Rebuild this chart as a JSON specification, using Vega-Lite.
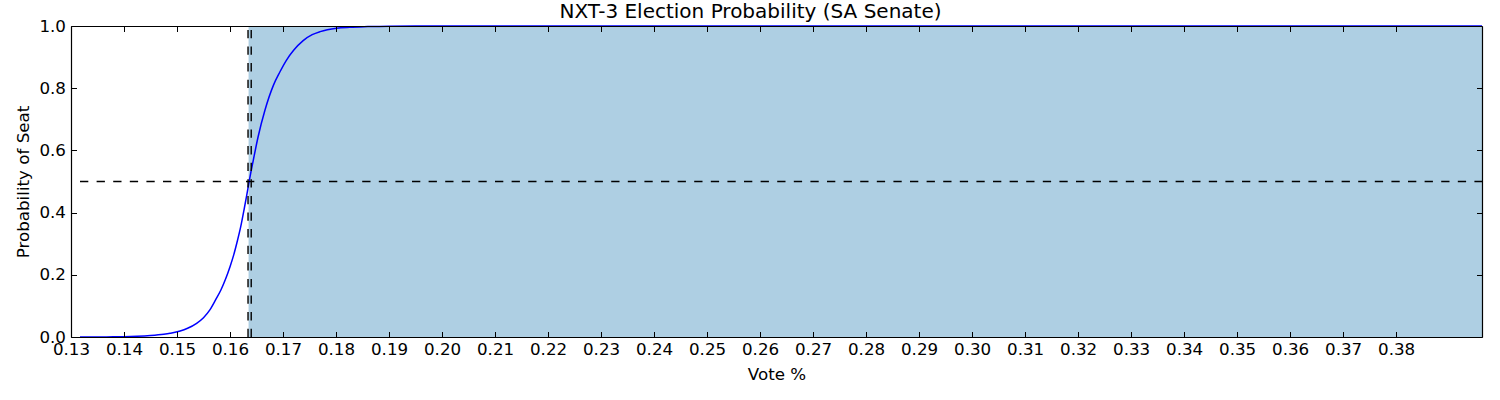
{
  "$schema": "https://vega.github.io/schema/vega-lite/v6.json",
  "width": 1411,
  "height": 311,
  "autosize": "none",
  "padding": {"left": 71, "top": 26, "right": 18, "bottom": 63},
  "background": "white",
  "config": {"view": {"stroke": null}, "font": "DejaVu Sans"},
  "title": {"text": "NXT-3 Election Probability (SA Senate)", "font": "DejaVu Sans", "fontSize": 20, "fontWeight": "normal", "color": "black", "anchor": "middle", "offset": -4, "dx": -26},
  "datasets": {
    "fill": [{"x0": 0.1635, "x1": 0.3962, "y0": 0, "y1": 1}],
    "curve": [
      {"vote": 0.1317, "p": 0.0},
      {"vote": 0.135, "p": 0.0002},
      {"vote": 0.138, "p": 0.0005},
      {"vote": 0.14, "p": 0.001},
      {"vote": 0.1425, "p": 0.0025},
      {"vote": 0.145, "p": 0.005},
      {"vote": 0.1475, "p": 0.009},
      {"vote": 0.1487, "p": 0.012},
      {"vote": 0.1506, "p": 0.019},
      {"vote": 0.152, "p": 0.028},
      {"vote": 0.1537, "p": 0.044},
      {"vote": 0.155, "p": 0.062},
      {"vote": 0.1562, "p": 0.087},
      {"vote": 0.1573, "p": 0.12},
      {"vote": 0.1583, "p": 0.152},
      {"vote": 0.1592, "p": 0.188},
      {"vote": 0.16, "p": 0.226},
      {"vote": 0.1607, "p": 0.264},
      {"vote": 0.1613, "p": 0.303},
      {"vote": 0.162, "p": 0.353},
      {"vote": 0.1627, "p": 0.414},
      {"vote": 0.1632, "p": 0.46},
      {"vote": 0.1636, "p": 0.499},
      {"vote": 0.1644, "p": 0.569},
      {"vote": 0.1653, "p": 0.644},
      {"vote": 0.1666, "p": 0.73},
      {"vote": 0.1682, "p": 0.81},
      {"vote": 0.1694, "p": 0.852},
      {"vote": 0.1706, "p": 0.889},
      {"vote": 0.172, "p": 0.922},
      {"vote": 0.1738, "p": 0.953},
      {"vote": 0.1755, "p": 0.972},
      {"vote": 0.177, "p": 0.982},
      {"vote": 0.1801, "p": 0.993},
      {"vote": 0.1826, "p": 0.996},
      {"vote": 0.186, "p": 0.998},
      {"vote": 0.19, "p": 0.9995},
      {"vote": 0.195, "p": 1.0},
      {"vote": 0.3962, "p": 1.0}
    ],
    "hline": [{"y": 0.5, "xa": 0.1317, "xb": 0.3962}],
    "vlines": [{"x": 0.1634, "ya": 0, "yb": 1}, {"x": 0.164, "ya": 0, "yb": 1}]
  },
  "layer": [
    {
      "data": {"name": "fill"},
      "mark": {"type": "rect", "color": "#aecfe3"},
      "encoding": {
        "x": {"field": "x0", "type": "quantitative", "scale": {"domain": [0.13, 0.3962], "nice": false, "zero": false},
          "axis": {"orient": "bottom", "values": [0.13,0.14,0.15,0.16,0.17,0.18,0.19,0.2,0.21,0.22,0.23,0.24,0.25,0.26,0.27,0.28,0.29,0.3,0.31,0.32,0.33,0.34,0.35,0.36,0.37,0.38],
            "format": ".2f", "tickSize": -5.5, "tickColor": "black", "tickWidth": 1, "domainColor": "black", "domainWidth": 1.2,
            "labelPadding": 10, "labelFontSize": 16.7, "labelColor": "black", "labelFont": "DejaVu Sans", "labelFlush": false, "labelOverlap": false,
            "grid": false, "zindex": 2, "title": "Vote %", "titleFontSize": 16.7, "titleFontWeight": "normal", "titleColor": "black", "titleFont": "DejaVu Sans", "titlePadding": 8}},
        "x2": {"field": "x1"},
        "y": {"field": "y0", "type": "quantitative", "scale": {"domain": [0, 1], "nice": false},
          "axis": {"orient": "left", "values": [0, 0.2, 0.4, 0.6, 0.8, 1.0], "format": ".1f", "tickSize": -5.5, "tickColor": "black", "tickWidth": 1, "domainColor": "black", "domainWidth": 1.2,
            "labelPadding": 11, "labelFontSize": 16.7, "labelColor": "black", "labelFont": "DejaVu Sans", "labelFlush": false, "labelOverlap": false,
            "grid": false, "zindex": 2, "title": "Probability of Seat", "titleFontSize": 16.7, "titleFontWeight": "normal", "titleColor": "black", "titleFont": "DejaVu Sans", "titlePadding": 6}},
        "y2": {"field": "y1"}
      }
    },
    {
      "data": {"name": "curve"},
      "mark": {"type": "line", "color": "#0000ff", "strokeWidth": 1.5, "interpolate": "monotone"},
      "encoding": {
        "x": {"field": "vote", "type": "quantitative",
          "axis": {"orient": "top", "values": [0.13,0.14,0.15,0.16,0.17,0.18,0.19,0.2,0.21,0.22,0.23,0.24,0.25,0.26,0.27,0.28,0.29,0.3,0.31,0.32,0.33,0.34,0.35,0.36,0.37,0.38],
            "labels": false, "tickSize": -5.5, "tickColor": "black", "tickWidth": 1, "domainColor": "black", "domainWidth": 1.2, "grid": false, "zindex": 2, "title": null}},
        "y": {"field": "p", "type": "quantitative",
          "axis": {"orient": "right", "values": [0, 0.2, 0.4, 0.6, 0.8, 1.0], "labels": false, "tickSize": -5.5, "tickColor": "black", "tickWidth": 1, "domainColor": "black", "domainWidth": 1.2, "grid": false, "zindex": 2, "title": null}}
      }
    },
    {
      "data": {"name": "hline"},
      "mark": {"type": "rule", "color": "black", "strokeWidth": 1.4, "strokeDash": [8.3, 8.3]},
      "encoding": {
        "x": {"field": "xa", "type": "quantitative", "axis": null},
        "x2": {"field": "xb"},
        "y": {"field": "y", "type": "quantitative", "axis": null}
      }
    },
    {
      "data": {"name": "vlines"},
      "mark": {"type": "rule", "color": "black", "strokeWidth": 1.4, "strokeDash": [8.3, 8.3]},
      "encoding": {
        "x": {"field": "x", "type": "quantitative", "axis": null},
        "y": {"field": "ya", "type": "quantitative", "axis": null},
        "y2": {"field": "yb"}
      }
    }
  ],
  "resolve": {"axis": {"x": "independent", "y": "independent"}}
}
